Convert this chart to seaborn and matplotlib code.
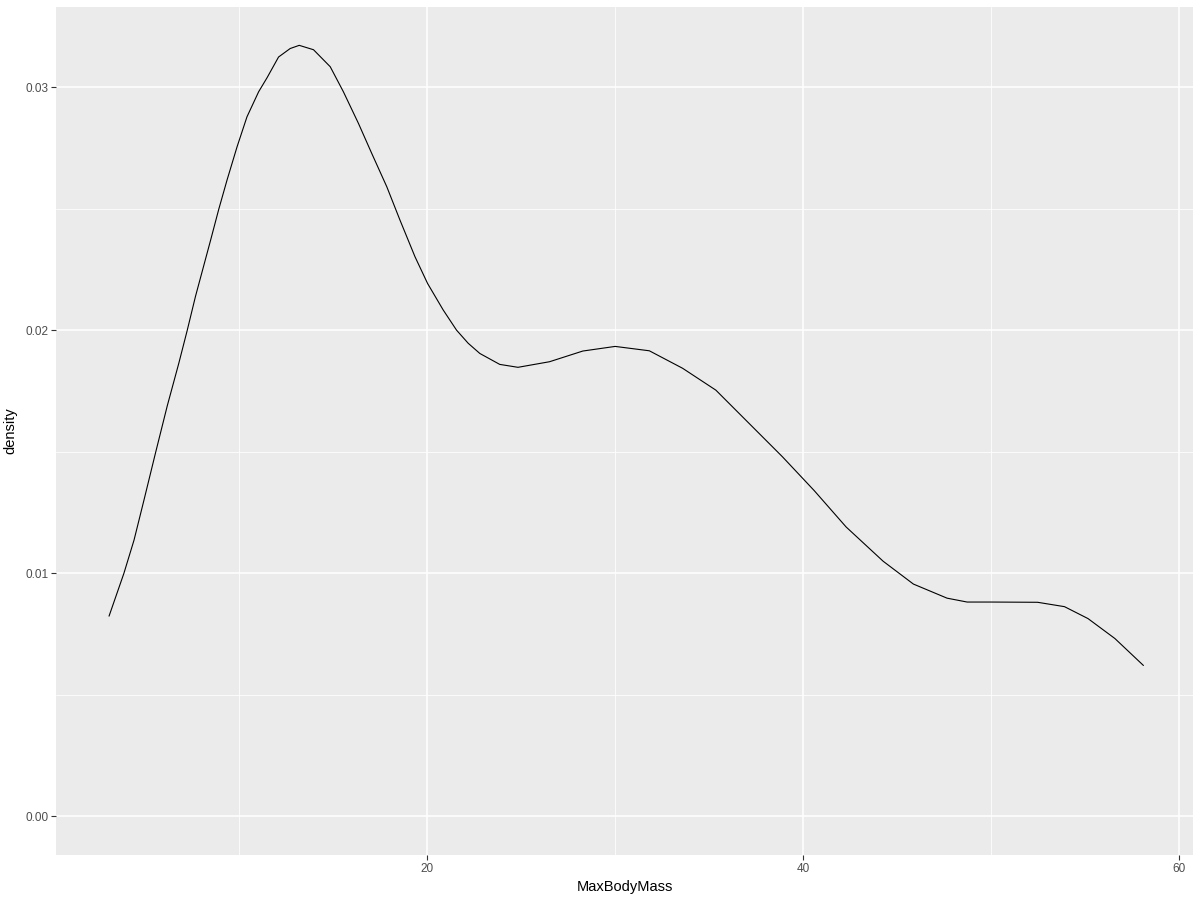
import matplotlib
matplotlib.use("Agg")
import matplotlib.pyplot as plt
from matplotlib.ticker import MultipleLocator, FormatStrFormatter
import pandas as pd
import seaborn as sns

# density curve
max_body_mass = [3.07, 3.86, 4.40, 4.93, 5.55, 6.17, 6.78, 7.23, 7.67, 8.47,
                 8.91, 9.35, 9.88, 10.41, 11.03, 11.48, 12.09, 12.71, 13.19, 13.95,
                 14.84, 15.54, 16.34, 17.05, 17.85, 18.55, 19.35, 20.02, 20.85, 21.56,
                 22.18, 22.80, 23.86, 24.83, 26.51, 28.28, 30.0, 31.82, 33.59, 35.36,
                 37.13, 38.90, 40.60, 42.29, 44.26, 45.87, 47.66, 48.73, 50.0, 52.48,
                 53.91, 55.16, 56.59, 58.11]
density = [0.00824, 0.0100, 0.01137, 0.01302, 0.01498, 0.0169, 0.01864, 0.0200, 0.0214, 0.0237,
           0.02499, 0.02619, 0.02755, 0.02879, 0.02982, 0.0304, 0.03125, 0.0316, 0.03173, 0.03155,
           0.03085, 0.02982, 0.02852, 0.02728, 0.02591, 0.02454, 0.02303, 0.02193, 0.02084, 0.02001,
           0.01947, 0.01905, 0.0186, 0.01848, 0.01871, 0.01915, 0.01934, 0.01916, 0.01844, 0.01754,
           0.01617, 0.0148, 0.0134, 0.01191, 0.0105, 0.00956, 0.00898, 0.00882, 0.00882, 0.00881,
           0.00863, 0.00814, 0.00732, 0.00621]

df = pd.DataFrame({"MaxBodyMass": max_body_mass, "density": density})

sns.set_theme(style="darkgrid", rc={
    "axes.facecolor": "#EBEBEB",
    "grid.color": "white",
})
plt.rcParams["font.family"] = ["Liberation Sans", "DejaVu Sans"]

fig = plt.figure(figsize=(12, 9), dpi=100)
ax = fig.add_axes([0.0467, 0.05, 0.9475, 0.942])

sns.lineplot(data=df, x="MaxBodyMass", y="density", color="black",
             linewidth=0.8, estimator=None, sort=False, ax=ax,
             solid_joinstyle="round")

ax.set_xlim(0.25, 60.75)
ax.set_ylim(-0.00159, 0.0333)

ax.xaxis.set_major_locator(MultipleLocator(20))
ax.xaxis.set_minor_locator(MultipleLocator(10))
ax.yaxis.set_major_locator(MultipleLocator(0.01))
ax.yaxis.set_minor_locator(MultipleLocator(0.005))
ax.yaxis.set_major_formatter(FormatStrFormatter("%.2f"))

ax.grid(which="major", color="white", linewidth=1.1)
ax.grid(which="minor", color="white", linewidth=0.55)
for s in ax.spines.values():
    s.set_visible(False)

ax.tick_params(which="major", length=3.5, width=0.8, color="#333333",
               labelsize=8.5, labelcolor="#4D4D4D", pad=2,
               bottom=True, left=True)
ax.tick_params(which="minor", length=0)

ax.set_xlabel("MaxBodyMass", fontsize=10.5, color="black", labelpad=4)
ax.set_ylabel("density", fontsize=10.5, color="black", labelpad=6)

fig.savefig("out.png", dpi=100)
